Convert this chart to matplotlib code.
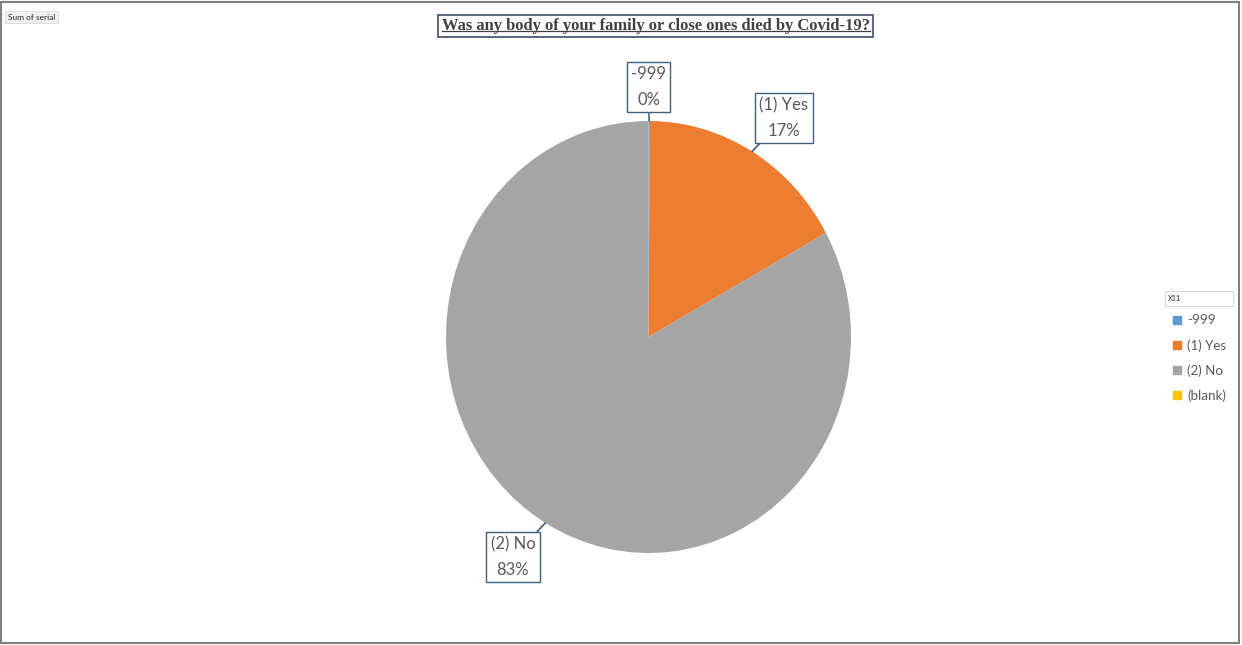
import numpy as np
import matplotlib
matplotlib.use("Agg")
import matplotlib.pyplot as plt
from matplotlib.patches import Rectangle
from matplotlib.lines import Line2D

# Answers to X11 (sum of serial)
categories = ["-999", "(1) Yes", "(2) No", "(blank)"]
values = [0.1, 16.9, 83.0, 0.0]
colors = ["#5B9BD5", "#ED7D31", "#A5A5A5", "#FFC000"]
title = "Was any body of your family or close ones died by Covid-19?"
legend_title = "X11"
field_label = "Sum of serial"

# callout box centres (data units of the pie axes)
callout_pos = [(0.0, 1.157), (0.669, 1.014), (-0.669, -1.019)]

W, H, DPI = 1242, 645, 100
fig = plt.figure(figsize=(W / DPI, H / DPI), dpi=DPI)
fig.patch.set_facecolor("white")

label_font = ["Lato", "DejaVu Sans"]
text_gray = "#595959"
box_edge = "#41607E"

# pie axes (slightly stretched vertically)
ax = fig.add_axes([446 / W, 1 - 553 / H, 405 / W, 432 / H])
wedges, _ = ax.pie(values, colors=colors, startangle=90, counterclock=False,
                   radius=1.0, wedgeprops=dict(linewidth=0))
ax.set_aspect("auto")
ax.set_xlim(-1, 1)
ax.set_ylim(-1, 1)
ax.axis("off")

total = sum(values)
start = 0.0
for i, (cat, v) in enumerate(zip(categories, values)):
    frac = v / total
    if v > 0:
        mid = (start + frac / 2) * 2 * np.pi
        px, py = np.sin(mid), np.cos(mid)
        pct = f"{round(frac * 100):.0f}%"
        ax.annotate(f"{cat}\n{pct}", xy=(px, py), xytext=callout_pos[i],
                    textcoords="data", ha="center", va="center",
                    fontsize=12, color=text_gray, family=label_font,
                    linespacing=1.75, annotation_clip=False,
                    bbox=dict(boxstyle="square,pad=0.25", fc="white",
                              ec=box_edge, lw=1.0),
                    arrowprops=dict(arrowstyle="-", color=box_edge, lw=1.2,
                                    shrinkA=0, shrinkB=0))
    start += frac

# title with box and underline
t = fig.text(655.5 / W, 1 - 26 / H, title, ha="center", va="center",
             fontsize=11.9, fontweight="bold", color="#404040",
             family=["Liberation Serif", "DejaVu Serif"],
             bbox=dict(boxstyle="square,pad=0.2", fc="white", ec="#4A5A70", lw=1.3))
fig.canvas.draw()
bb = t.get_window_extent(fig.canvas.get_renderer())
uy = (bb.y0 + 3.2) / H
fig.add_artist(Line2D([bb.x0 / W, bb.x1 / W], [uy, uy], color="#404040", lw=0.9,
                      transform=fig.transFigure, zorder=5))

# field button at the top left
fig.text(8 / W, 1 - 17 / H, field_label, ha="left", va="center", fontsize=6.0,
         color="#262626", family=label_font,
         bbox=dict(boxstyle="square,pad=0.35", fc="#F2F2F2", ec="#D9D9D9", lw=0.6))

# legend
handles = [Line2D([], [], marker="s", linestyle="none", markersize=5.5,
                  markerfacecolor=c, markeredgecolor=c) for c in colors]
leg = fig.legend(handles, categories, loc="upper left",
                 bbox_to_anchor=(1164 / W, 1 - 305 / H), frameon=False,
                 handlelength=0.6, handletextpad=0.45, labelspacing=0.95,
                 borderpad=0.2, labelcolor=text_gray,
                 prop=dict(family=label_font, size=9.6))
fig.text(1168 / W, 1 - 298.5 / H, legend_title, ha="left", va="center",
         fontsize=5.2, color="#262626", family=label_font)
fig.add_artist(Rectangle((1165 / W, 1 - 306 / H), 68 / W, 15 / H,
                         transform=fig.transFigure, fill=False,
                         ec="#D9D9D9", lw=0.8))

# outer frame
fig.add_artist(Rectangle((1 / W, 2 / H), 1238 / W, 641 / H,
                         transform=fig.transFigure, fill=False,
                         ec="#7F7F7F", lw=1.5))

fig.savefig("out.png", dpi=DPI)
